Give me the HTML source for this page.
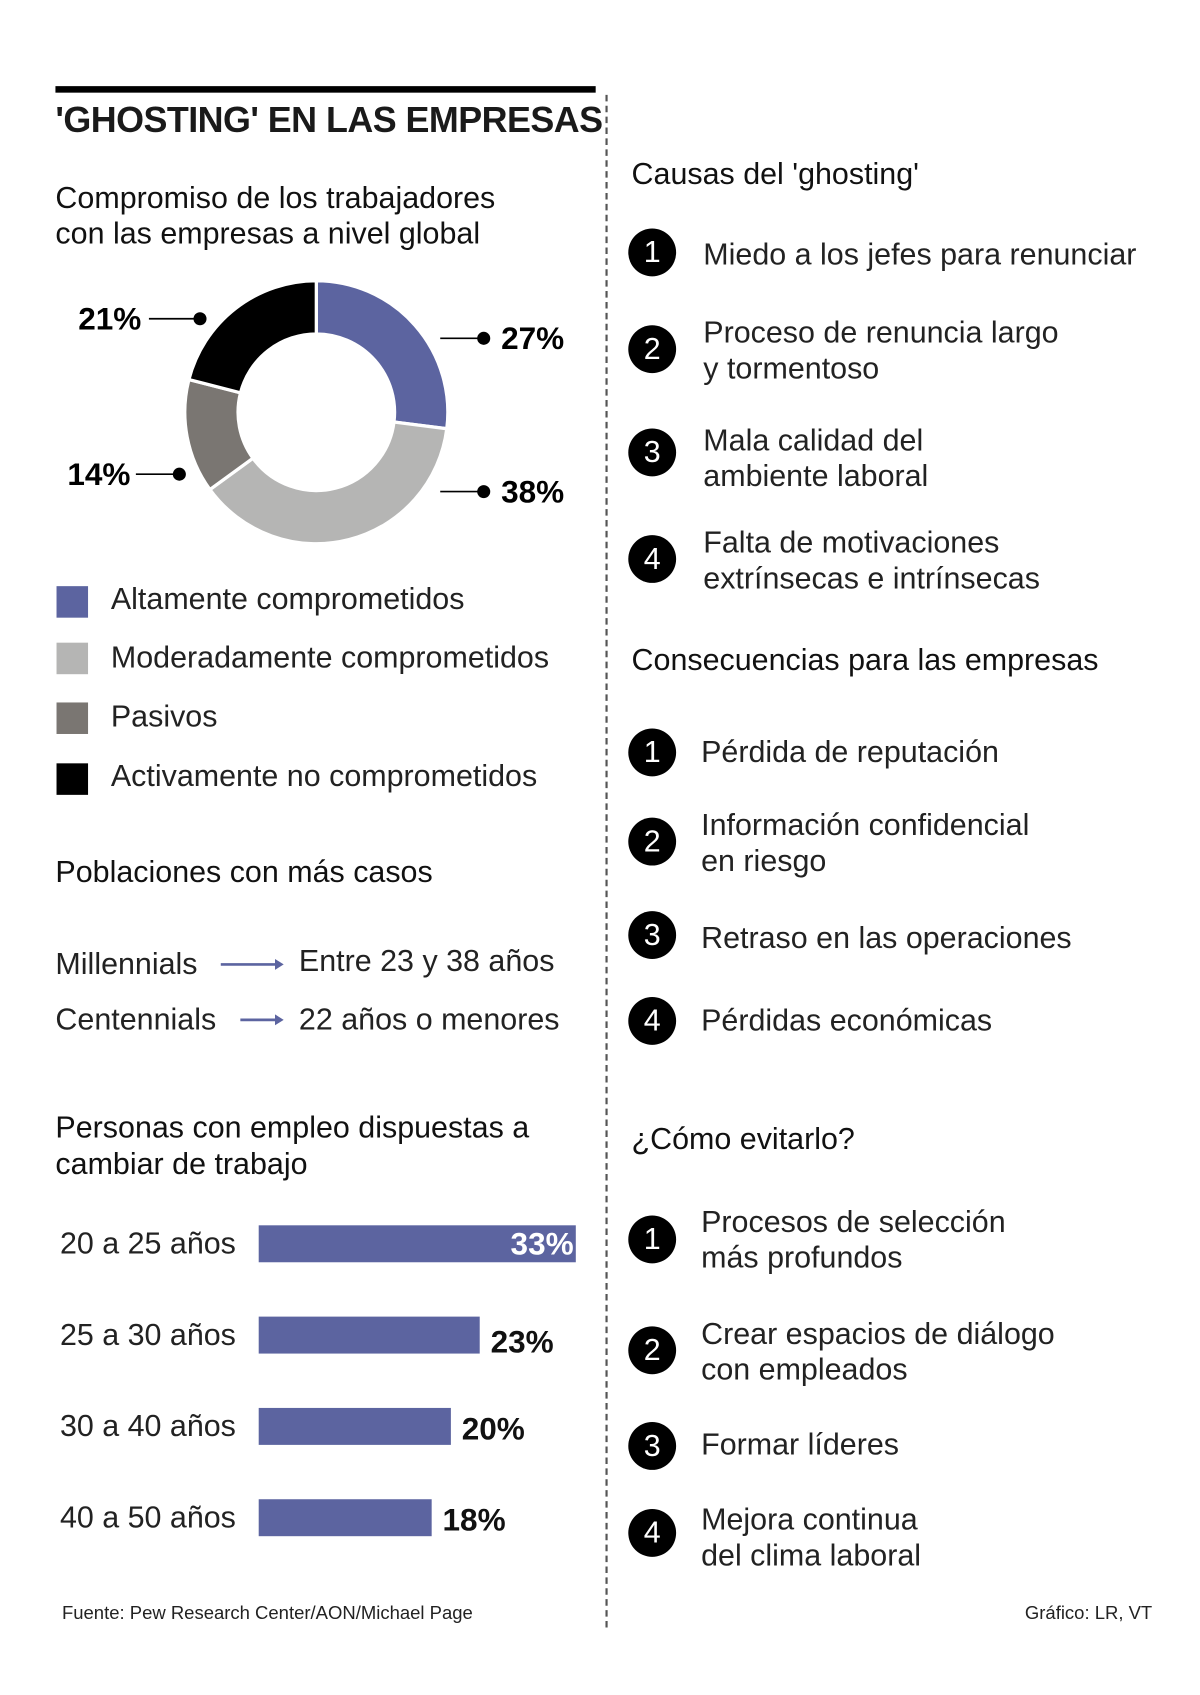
<!DOCTYPE html>
<html><head><meta charset="utf-8">
<style>
html,body{margin:0;padding:0;background:#fff;width:1200px;height:1695px;overflow:hidden}
#wrap{position:absolute;left:0;top:-3px;width:1104px;height:1560px;transform:scale(1.087);transform-origin:0 0;font-family:"Liberation Sans",sans-serif;color:#1a1a1a}
.t{position:absolute;white-space:nowrap;line-height:1}
.h{font-size:28px;color:#111}
.it{font-size:28px;color:#222;line-height:33px}
.num{position:absolute;width:44px;height:44px;border-radius:50%;background:#000;color:#fff;font-size:28px;text-align:center;line-height:44px}
.sq{position:absolute;width:29px;height:29px}
</style></head><body>
<div id="wrap">
<div style="position:absolute;left:51px;top:82px;width:497px;height:6px;background:#000"></div>
<div class="t" style="left:51px;top:96px;font-size:33px;font-weight:bold;letter-spacing:-0.5px">'GHOSTING'  EN LAS EMPRESAS</div>
<div style="position:absolute;left:557px;top:90px;height:1410px;border-left:2px dashed #555"></div>

<div class="t h" style="left:51px;top:168px;line-height:33px">Compromiso de los trabajadores<br>con las empresas a nivel global</div>
<svg id="donut" style="position:absolute;left:0;top:242px" width="558" height="290"></svg>

<div class="sq" style="left:52px;top:542px;background:#5c64a0"></div>
<div class="t it" style="left:102px;top:537px">Altamente comprometidos</div>
<div class="sq" style="left:52px;top:594px;background:#b5b5b4"></div>
<div class="t it" style="left:102px;top:591px">Moderadamente comprometidos</div>
<div class="sq" style="left:52px;top:649px;background:#7a7672"></div>
<div class="t it" style="left:102px;top:645px">Pasivos</div>
<div class="sq" style="left:52px;top:705px;background:#000"></div>
<div class="t it" style="left:102px;top:700px">Activamente no comprometidos</div>

<div class="t h" style="left:51px;top:791px">Poblaciones con más casos</div>
<div class="t it" style="left:51px;top:873px">Millennials</div>
<svg style="position:absolute;left:203px;top:882px" width="60" height="16"><line x1="0" y1="8" x2="52" y2="8" stroke="#5c64a0" stroke-width="2.5"/><path d="M50 3 L58 8 L50 13 Z" fill="#5c64a0"/></svg>
<div class="t it" style="left:275px;top:870px">Entre 23 y 38 años</div>
<div class="t it" style="left:51px;top:924px">Centennials</div>
<svg style="position:absolute;left:221px;top:933px" width="42" height="16"><line x1="0" y1="8" x2="34" y2="8" stroke="#5c64a0" stroke-width="2.5"/><path d="M32 3 L40 8 L32 13 Z" fill="#5c64a0"/></svg>
<div class="t it" style="left:275px;top:924px">22 años o menores</div>

<div class="t h" style="left:51px;top:1023px;line-height:34px">Personas con empleo dispuestas a<br>cambiar de trabajo</div>
<svg id="bars" style="position:absolute;left:0;top:1102px" width="558" height="340"></svg>

<div class="t" style="left:57px;top:1478px;font-size:17px;color:#222">Fuente: Pew Research Center/AON/Michael Page</div>
<div class="t" style="right:44px;top:1478px;font-size:17px;color:#222">Gráfico: LR, VT</div>

<div class="t h" style="left:581px;top:149px">Causas del 'ghosting'</div>
<div class="num" style="left:578px;top:213px">1</div>
<div class="t it" style="left:647px;top:220px">Miedo a los jefes para renunciar</div>
<div class="num" style="left:578px;top:302px">2</div>
<div class="t it" style="left:647px;top:292px">Proceso de renuncia largo<br>y tormentoso</div>
<div class="num" style="left:578px;top:397px">3</div>
<div class="t it" style="left:647px;top:391px">Mala calidad del<br>ambiente laboral</div>
<div class="num" style="left:578px;top:495px">4</div>
<div class="t it" style="left:647px;top:485px">Falta de motivaciones<br>extrínsecas e intrínsecas</div>

<div class="t h" style="left:581px;top:596px">Consecuencias para las empresas</div>
<div class="num" style="left:578px;top:673px">1</div>
<div class="t it" style="left:645px;top:678px">Pérdida de reputación</div>
<div class="num" style="left:578px;top:755px">2</div>
<div class="t it" style="left:645px;top:745px">Información confidencial<br>en riesgo</div>
<div class="num" style="left:578px;top:841px">3</div>
<div class="t it" style="left:645px;top:849px">Retraso en las operaciones</div>
<div class="num" style="left:578px;top:920px">4</div>
<div class="t it" style="left:645px;top:925px">Pérdidas económicas</div>

<div class="t h" style="left:581px;top:1037px">¿Cómo evitarlo?</div>
<div class="num" style="left:578px;top:1121px">1</div>
<div class="t it" style="left:645px;top:1110px">Procesos de selección<br>más profundos</div>
<div class="num" style="left:578px;top:1223px">2</div>
<div class="t it" style="left:645px;top:1213px">Crear espacios de diálogo<br>con empleados</div>
<div class="num" style="left:578px;top:1311px">3</div>
<div class="t it" style="left:645px;top:1315px">Formar líderes</div>
<div class="num" style="left:578px;top:1391px">4</div>
<div class="t it" style="left:645px;top:1384px">Mejora continua<br>del clima laboral</div>
</div>
<script>
const donutCategories = ["Altamente comprometidos","Moderadamente comprometidos","Pasivos","Activamente no comprometidos"];
const donutValues = [27, 38, 14, 21];
const donutLabels = ["27%","38%","14%","21%"];
const barCategories = ["20 a 25 años","25 a 30 años","30 a 40 años","40 a 50 años"];
const barValues = [33, 23, 20, 18];
const barLabels = ["33%","23%","20%","18%"];

const NS="http://www.w3.org/2000/svg";
function mk(tag,attrs,parent){const e=document.createElementNS(NS,tag);for(const k in attrs)e.setAttribute(k,attrs[k]);parent.appendChild(e);return e;}

(function(){
  const svg=document.getElementById('donut');
  const colors=["#5c64a0","#b5b5b4","#7a7672","#000"];
  const cx=291,cy=140,R=121,r=72;
  const total=donutValues.reduce((a,b)=>a+b,0);
  let a0=0;
  const pt=(ang,rad)=>[cx+rad*Math.sin(ang),cy-rad*Math.cos(ang)];
  donutValues.forEach((v,i)=>{
    const a1=a0+v/total*2*Math.PI;
    const large=(a1-a0)>Math.PI?1:0;
    const p1=pt(a0,R),p2=pt(a1,R),p3=pt(a1,r),p4=pt(a0,r);
    const p=mk('path',{d:`M${p1} A${R} ${R} 0 ${large} 1 ${p2} L${p3} A${r} ${r} 0 ${large} 0 ${p4} Z`,fill:colors[i],stroke:'#fff','stroke-width':3},svg);
    
    
    a0=a1;
  });
  const lab=[{lx:405,dx:445,y:72,tx:461,anchor:'start'},{lx:405,dx:445,y:213,tx:461,anchor:'start'},{lx:125,dx:165,y:197,tx:120,anchor:'end'},{lx:137,dx:184,y:54,tx:130,anchor:'end'}];
  donutLabels.forEach((t,i)=>{
    const L=lab[i];
    mk('line',{x1:L.lx,y1:L.y,x2:L.dx,y2:L.y,stroke:'#000','stroke-width':1.5},svg);
    mk('circle',{cx:L.dx,cy:L.y,r:6,fill:'#000'},svg);
    const tx=mk('text',{x:L.tx,y:L.y+10,'font-size':29,'font-weight':'bold','text-anchor':L.anchor,'font-family':'Liberation Sans, sans-serif'},svg);
    tx.textContent=t;
    
    
  });
})();

(function(){
  const svg=document.getElementById('bars');
  const x0=238, pxPer=8.84, h=34;
  const xs=v=>v*pxPer;
  const ys=i=>28+i*84;
  barCategories.forEach((c,i)=>{
    const y=ys(i);
    const tl=mk('text',{x:217,y:y+26,'font-size':28,'text-anchor':'end',fill:'#222','font-family':'Liberation Sans, sans-serif'},svg);
    tl.textContent=c;
    
    
    const w=xs(barValues[i]);
    const b=mk('rect',{x:x0,y:y,width:w,height:h,fill:'#5c64a0'},svg);
    
    
    const inside=i===0;
    const vt=mk('text',{x:inside?x0+w-2:x0+w+10,y:inside?y+27:y+29+(i===1?4:0),'font-size':29,'font-weight':'bold','text-anchor':inside?'end':'start',fill:inside?'#fff':'#111','font-family':'Liberation Sans, sans-serif'},svg);
    vt.textContent=barLabels[i];
    
    
  });
})();
</script>
</body></html>
